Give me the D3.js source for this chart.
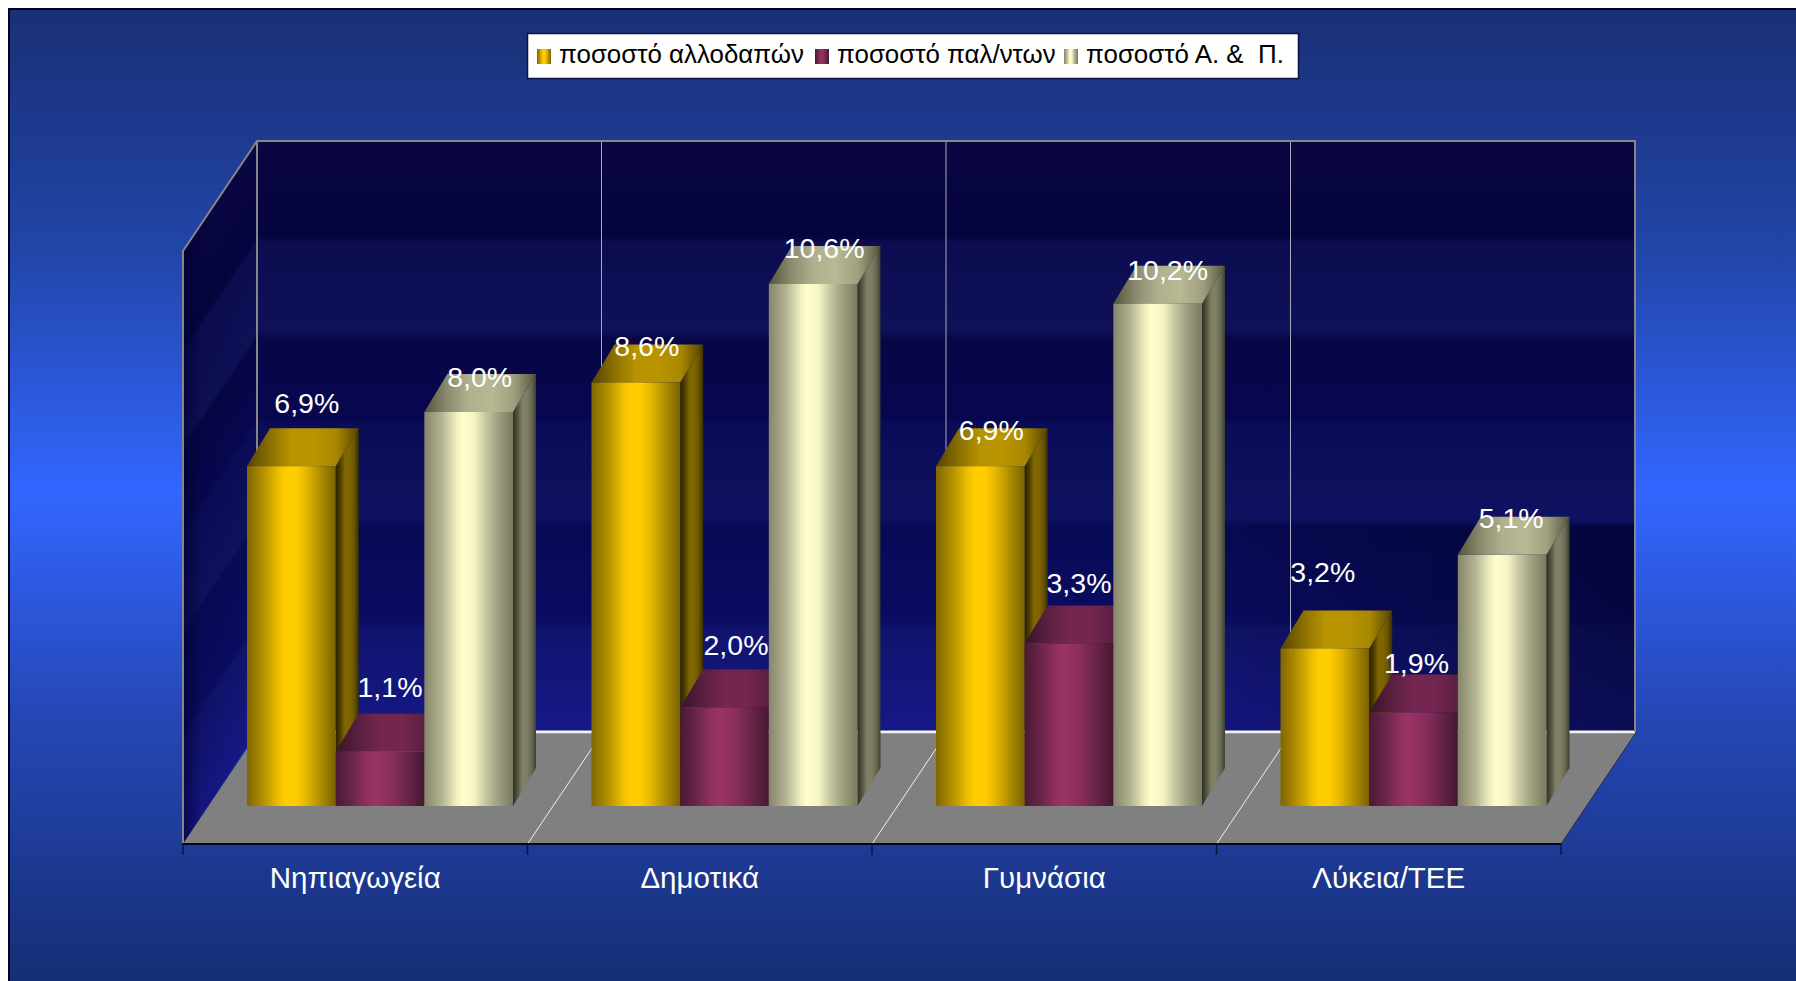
<!DOCTYPE html>
<html><head><meta charset="utf-8">
<script src="https://cdn.jsdelivr.net/npm/d3@7/dist/d3.min.js"></script>
<style>html,body{margin:0;padding:0;background:#fff;overflow:hidden}svg{display:block}text{font-family:"Liberation Sans",Arial,sans-serif;white-space:pre}</style>
</head><body><script>
// ---- data
const categories = ["Νηπιαγωγεία", "Δημοτικά", "Γυμνάσια", "Λύκεια/ΤΕΕ"];
const seriesNames = ["ποσοστό αλλοδαπών", "ποσοστό παλ/ντων", "ποσοστό Α. &  Π."];
const foreignStudents = [6.9, 8.6, 6.9, 3.2];
const repatriated = [1.1, 2.0, 3.3, 1.9];
const athletesArtists = [8.0, 10.6, 10.2, 5.1];
const seriesValues = [foreignStudents, repatriated, athletesArtists];

// ---- drawing set-up
const W = 1796, H = 981;
const floorFront = 844, floorBack = 734, wallTop = 141;
const plotL = 183, plotR = 1561, depthX = 74, depthY = 110;
const barDx = 23, barDy = 38, base = 806;
const svg = d3.select("body").append("svg").attr("width", W).attr("height", H);
const defs = svg.append("defs");

const x0 = d3.scaleBand().domain(categories).range([plotL, plotR]);
const x1 = d3.scaleBand().domain(d3.range(3)).range([64, 64 + 266]);
const y = d3.scaleLinear().domain([0, 12]).range([base, base - 591]);

function grad(id, stops, attrs) {
  const g = defs.append("linearGradient").attr("id", id);
  Object.entries(attrs || {x1:0,x2:1,y1:0,y2:0}).forEach(([k,v]) => g.attr(k,v));
  stops.forEach(([o,c,a]) => g.append("stop").attr("offset",o).attr("stop-color",c).attr("stop-opacity",a==null?1:a));
}
const pal = [
 {front:["#7f6600","#b89400","#f0c000","#ffcc00","#ffcc00","#dcb000","#a88800","#7a6200"],
  side:["#2a2200","#4d3e00","#7f6600","#7f6600","#6b5600","#3a2f00"],
  top:["#554400","#8a6f00","#b89400","#b89400","#a88800","#554400"]},
 {front:["#4a1a36","#6a2549","#933060","#993366","#8a2e5c","#6a2549","#451832"],
  side:["#2a0e1e","#4a1a36","#4a1a36","#3a1429"],
  top:["#381328","#5a1f40","#73264f","#73264f","#5a1f40","#4a1a36"]},
 {front:["#85856a","#b5b594","#efefc0","#ffffcc","#f5f5c4","#c4c4a0","#9a9a7c","#7a7a60"],
  side:["#2e2e24","#55553f","#7f7f66","#7f7f66","#6a6a54","#3f3f30"],
  top:["#55553f","#8a8a6e","#b0b08e","#b8b894","#a0a080","#55553f"]}
];
const spread = a => a.map((c,i)=>[i/(a.length-1),c]);
pal.forEach((p,i)=>{
  const fs = i===1 ? [[0,p.front[0]],[.18,p.front[1]],[.36,p.front[2]],[.45,p.front[3]],[.62,p.front[4]],[.8,p.front[5]],[1,p.front[6]]]
                   : [[0,p.front[0]],[.2,p.front[1]],[.36,p.front[2]],[.43,p.front[3]],[.56,p.front[4]],[.7,p.front[5]],[.85,p.front[6]],[1,p.front[7]]];
  grad("f"+i, fs);
  grad("s"+i, spread(p.side));
  grad("t"+i, spread(p.top));
});
// backdrop
grad("bg",[[0,"#1a2f75"],[.25,"#2145a8"],[.5,"#3366ff"],[.72,"#2548b8"],[1,"#162e75"]],{x1:0,x2:0,y1:0,y2:1});
// wall bands, shared by the back wall and (sheared) the left wall
const wallStops = [[141,"#0a0642"],[236,"#05043f"],[243,"#0c0c50"],[332,"#0f1158"],[339,"#070646"],[418,"#070750"],[425,"#0b0c58"],[518,"#0f1260"],[525,"#080a56"],[621,"#0a0c62"],[628,"#10146c"],[731,"#171888"]]
  .map(([v,c])=>[(v-141)/590,c]);
grad("wall", wallStops, {gradientUnits:"userSpaceOnUse",x1:0,x2:0,y1:141,y2:731});
const k = -depthY/depthX;
grad("wallL", wallStops, {gradientUnits:"userSpaceOnUse",x1:0,x2:0,y1:141,y2:731,
  gradientTransform:`matrix(1,${k},0,1,0,${-k*(plotL+depthX)})`});
grad("rightShade",[[0,"#000020",0],[.55,"#000020",.3],[1,"#000020",.5]]);
grad("leftShade",[[0,"#000030",.65],[.25,"#000030",.1],[1,"#000030",0]]);

svg.append("rect").attr("width",W).attr("height",H).attr("fill","#fff");
svg.append("rect").attr("x",8).attr("y",8).attr("width",W-8).attr("height",H-8).attr("fill","url(#bg)");
svg.append("path").attr("d",`M9,${H}V9H${W}`).attr("fill","none").attr("stroke","#00051f").attr("stroke-width",2);

const poly = pts => "M"+pts.map(p=>p.join(",")).join("L")+"Z";
const backL = plotL+depthX, backR = plotR+depthX, wallBottom = floorBack-2;
// walls
svg.append("rect").attr("x",backL).attr("y",wallTop).attr("width",backR-backL).attr("height",wallBottom-wallTop).attr("fill","url(#wall)");
svg.append("rect").attr("x",backR-500).attr("y",525).attr("width",500).attr("height",wallBottom-525).attr("fill","url(#rightShade)");
svg.append("path").attr("d",poly([[plotL,wallTop+depthY],[backL,wallTop],[backL,wallBottom],[plotL,floorFront]])).attr("fill","url(#wallL)");
svg.append("path").attr("d",poly([[plotL,wallTop+depthY],[backL,wallTop],[backL,wallBottom],[plotL,floorFront]])).attr("fill","url(#leftShade)");
// floor
svg.append("path").attr("d",poly([[plotL,floorFront],[plotR,floorFront],[backR,floorBack],[backL,floorBack]])).attr("fill","#808080");
svg.append("line").attr("x1",backL).attr("x2",backR).attr("y1",wallBottom).attr("y2",wallBottom).attr("stroke","#f2f2f2").attr("stroke-width",3);
svg.append("line").attr("x1",plotR).attr("y1",floorFront).attr("x2",backR).attr("y2",floorBack).attr("stroke","#2a2a40").attr("stroke-width",1);

// category grid lines on wall and floor
const cuts = categories.map(c=>x0(c));
svg.selectAll(".gw").data(cuts.slice(1)).join("line").attr("class","gw")
  .attr("x1",d=>d+depthX).attr("x2",d=>d+depthX).attr("y1",wallTop).attr("y2",wallBottom)
  .attr("stroke","#a8a8bc").attr("stroke-width",1);
svg.selectAll(".gf").data(cuts.slice(1)).join("line").attr("class","gf")
  .attr("x1",d=>d).attr("y1",floorFront).attr("x2",d=>d+depthX).attr("y2",floorBack)
  .attr("stroke","#f0f0f0").attr("stroke-width",1);
// wall border
svg.append("path").attr("d",`M${plotL},${floorFront}V${wallTop+depthY}L${backL},${wallTop}H${backR}V${wallBottom}M${backL},${wallTop}V${wallBottom}`)
  .attr("fill","none").attr("stroke","#868686").attr("stroke-width",2);

// bars
const bars = [];
categories.forEach((c,ci)=>seriesValues.forEach((vals,si)=>bars.push({c,ci,si,v:vals[ci]})));
const gBars = svg.append("g");
bars.forEach(b=>{
  const l = x0(b.c)+x1(b.si), r = l+x1.bandwidth(), t = y(b.v), g = gBars.append("g");
  g.append("path").attr("d",poly([[r,t],[r+barDx,t-barDy],[r+barDx,base-barDy],[r,base]])).attr("fill",`url(#s${b.si})`);
  g.append("path").attr("d",poly([[l,t],[r,t],[r+barDx,t-barDy],[l+barDx,t-barDy]])).attr("fill",`url(#t${b.si})`);
  g.append("rect").attr("x",l).attr("y",t).attr("width",r-l).attr("height",base-t).attr("fill",`url(#f${b.si})`);
});

// value labels (hand-placed in the original, offset from each bar's top)
const labelNudge = [
 [[15.5,-63],[11,-36],[11,-36],[-2,-76]],
 [[10,-65],[11.5,-62],[10,-60],[3,-49]],
 [[11,-35],[11,-36],[10,-34],[9,-37]]
];
svg.append("g").selectAll("text").data(bars).join("text")
  .attr("x",b=>x0(b.c)+x1(b.si)+x1.bandwidth()/2+labelNudge[b.si][b.ci][0])
  .attr("y",b=>y(b.v)+labelNudge[b.si][b.ci][1])
  .attr("dy","0.35em").attr("text-anchor","middle").attr("fill","#fff").attr("font-size",28.5)
  .text(b=>b.v.toFixed(1).replace(".",",")+"%");

// category axis
const axis = svg.append("g").attr("transform",`translate(0,${floorFront})`);
axis.append("line").attr("x1",plotL-1).attr("x2",plotR).attr("stroke","#00051f").attr("stroke-width",2);
axis.selectAll(".tick").data([...cuts,plotR]).join("line").attr("class","tick")
  .attr("x1",d=>d).attr("x2",d=>d).attr("y1",0).attr("y2",11).attr("stroke","#0a1440").attr("stroke-width",1.5);
axis.selectAll("text").data(categories).join("text")
  .attr("x",c=>x0(c)+x0.bandwidth()/2).attr("y",34).attr("dy","0.35em")
  .attr("text-anchor","middle").attr("fill","#fff").attr("font-size",29.5).text(c=>c);

// legend
const legendX = [537, 815, 1064];
const leg = svg.append("g");
leg.append("rect").attr("x",527.5).attr("y",33.5).attr("width",771).attr("height",45).attr("fill","#fff").attr("stroke","#0a1440").attr("stroke-width",1.5);
seriesNames.forEach((n,i)=>{
  leg.append("rect").attr("x",legendX[i]).attr("y",49).attr("width",14).attr("height",15).attr("fill",`url(#f${i})`);
  leg.append("text").attr("x",legendX[i]+22).attr("y",63).attr("font-size",25.9).attr("fill","#000").text(n);
});
</script></body></html>
